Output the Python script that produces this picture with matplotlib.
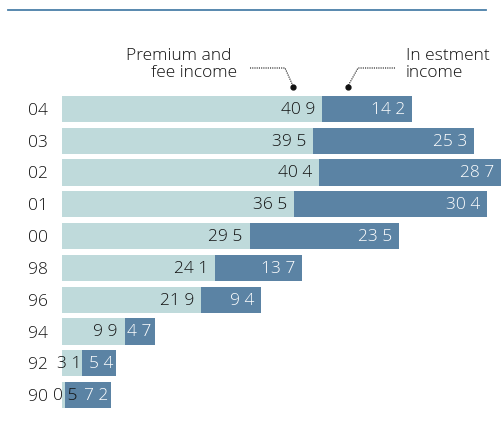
import matplotlib.pyplot as plt
from matplotlib.lines import Line2D

plt.rcParams['font.family'] = ['Open Sans', 'DejaVu Sans']
plt.rcParams['font.weight'] = 'light'

# datos (de arriba hacia abajo)
anios = ['04', '03', '02', '01', '00', '98', '96', '94', '92', '90']
primas = [40.9, 39.5, 40.4, 36.5, 29.5, 24.1, 21.9, 9.9, 3.1, 0.5]
inversion = [14.2, 25.3, 28.7, 30.4, 23.5, 13.7, 9.4, 4.7, 5.4, 7.2]

c_prima = '#bfdadb'
c_inv = '#5b83a4'
c_linea = '#4a7fa8'
c_texto = '#111111'
fs = 12.5

W, H = 503, 445
fig = plt.figure(figsize=(W / 100, H / 100), dpi=100)

# ejes colocados en pixeles de la figura
x0, x1 = 62, 503
y_top, y_bot = 93, 411
ax = fig.add_axes([x0 / W, 1 - y_bot / H, (x1 - x0) / W, (y_bot - y_top) / H])
escala = 6.36  # px por unidad
ax.set_xlim(0, (x1 - x0) / escala)
ax.set_ylim(len(anios) - 0.5, -0.5)

pos = list(range(len(anios)))
ax.barh(pos, primas, height=0.82, color=c_prima)
ax.barh(pos, inversion, left=primas, height=0.82, color=c_inv)


def etiqueta(v):
    return f'{v:.1f}'.replace('.', ' ')


for i, (p, v) in enumerate(zip(primas, inversion)):
    off_p = 1.1 if p > 8 else 0.0
    xp = max(p - off_p, 2.4)
    ax.text(xp, i + 0.03, etiqueta(p), ha='right', va='center', fontsize=fs,
            color=c_texto)
    off_v = 1.1 if v > 8 else 0.5
    ax.text(p + v - off_v, i + 0.03, etiqueta(v), ha='right', va='center',
            fontsize=fs, color='white')

ax.set_yticks(pos, anios)
ax.tick_params(axis='y', length=0, pad=10, labelsize=fs, labelcolor=c_texto)
ax.set_xticks([])
for s in ax.spines.values():
    s.set_visible(False)


def fx(x):
    return x / W


def fy(y):
    return 1 - y / H


# linea superior
fig.add_artist(Line2D([fx(8), fx(486)], [fy(10), fy(10)], color=c_linea,
                      lw=1.3, transform=fig.transFigure))

# anotaciones
fig.text(fx(231), fy(60), 'Premium and', ha='right', va='baseline',
         fontsize=fs, color=c_texto)
fig.text(fx(237), fy(77), 'fee income', ha='right', va='baseline',
         fontsize=fs, color=c_texto)
fig.text(fx(406), fy(60), 'In estment', ha='left', va='baseline',
         fontsize=fs, color=c_texto)
fig.text(fx(406), fy(77), 'income', ha='left', va='baseline',
         fontsize=fs, color=c_texto)

fig.add_artist(Line2D([fx(250), fx(285), fx(293)], [fy(68), fy(68), fy(86)],
                      color=c_texto, lw=0.8, ls=(0, (1, 1)),
                      transform=fig.transFigure))
fig.add_artist(Line2D([fx(293)], [fy(87)], marker='o', ms=3.5, color=c_texto,
                      transform=fig.transFigure))
fig.add_artist(Line2D([fx(395), fx(358), fx(348)], [fy(68), fy(68), fy(86)],
                      color=c_texto, lw=0.8, ls=(0, (1, 1)),
                      transform=fig.transFigure))
fig.add_artist(Line2D([fx(348)], [fy(87)], marker='o', ms=3.5, color=c_texto,
                      transform=fig.transFigure))

fig.savefig('out.png', dpi=100)
